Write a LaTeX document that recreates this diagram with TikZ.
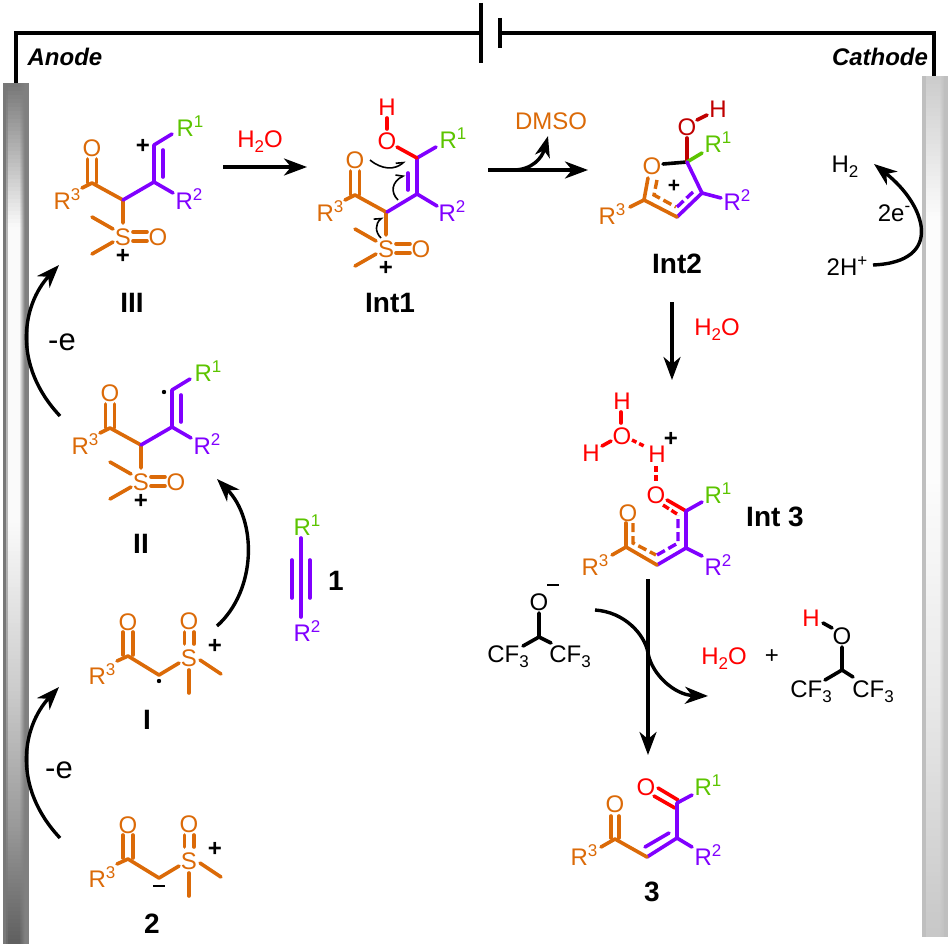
\documentclass[tikz,border=0pt]{standalone}
\usepackage{fontspec}
\setmainfont{Liberation Sans}
\usetikzlibrary{arrows.meta}
\definecolor{orng}{HTML}{DB6A08}
\definecolor{purp}{HTML}{8000FF}
\definecolor{grn}{HTML}{5CC400}
\definecolor{rd}{HTML}{FF0000}
\definecolor{drd}{HTML}{C00000}
\tikzset{
  bond/.style={line width=3.6pt,line cap=round,line join=round},
  obond/.style={bond,orng},
  pbond/.style={bond,purp},
  rbond/.style={bond,rd},
  kbond/.style={bond,black},
  dbond/.style={line width=3.4pt,dash pattern=on 9pt off 4pt},
  wire/.style={line width=3.2pt,black},
  rxn/.style={line width=3.4pt,black,-{Stealth[length=23pt,width=17pt,inset=7pt]}},
  push/.style={line width=1.6pt,black,-{Straight Barb[harpoon,length=6pt,width=9pt]}},
  atom/.style={inner sep=0pt,font=\fontsize{24}{24}\selectfont},
  oatom/.style={atom,text=orng},
  ratom/.style={atom,text=rd},
  katom/.style={atom,text=black},
  charge/.style={inner sep=0pt,font=\fontsize{24}{24}\selectfont\bfseries},
  raddot/.style={circle,fill=black,inner sep=0pt,minimum size=4.4pt},
  cmpd/.style={inner sep=0pt,font=\fontsize{28}{28}\selectfont\bfseries},
  elabel/.style={inner sep=0pt,font=\fontsize{24}{24}\selectfont\bfseries\itshape},
  rgroup/.style={inner sep=0pt,anchor=base west,font=\fontsize{24}{24}\selectfont,xshift=-8.66pt,yshift=-8.6pt},
}
\newcommand{\Sup}[1]{\raisebox{9.5pt}{\fontsize{17}{17}\selectfont #1}}
\newcommand{\Sub}[1]{\raisebox{-5pt}{\fontsize{17}{17}\selectfont #1}}
% R3 + keto + sulfoxonium fragment of III, II, Int1
\newcommand{\Core}[3]{%
\begin{scope}[shift={(#2,#3)}]
  \coordinate (#1c1) at (92,183);
  \coordinate (#1c2) at (123,200);
  \node[oatom] (#1o1) at (92,148) {O};
  \node[rgroup,text=orng] (#1r3) at (62,201) {R\Sup{3}};
  \node[oatom] (#1s) at (123,237) {S};
  \node[oatom] (#1o2) at (158,237) {O};
  \node[charge] (#1plus) at (123,256) {+};
  \draw[obond] (87.5,159) -- (87.5,183) (96.5,159) -- (96.5,183);
  \draw[obond] (82,188) -- (#1c1) -- (#1c2) -- (123,223);
  \draw[obond] (92,217) -- (113,229) (92,254) -- (113,242);
  \draw[obond] (133,232) -- (147,232) (133,241) -- (147,241);
\end{scope}}
% R1, R2 labels
\newcommand{\Rlabs}[3]{%
\begin{scope}[shift={(#2,#3)}]
  \node[rgroup,text=grn] (#1r1) at (185,128) {R\Sup{1}};
  \node[rgroup,text=purp] (#1r2) at (184,201) {R\Sup{2}};
\end{scope}}
% vinyl part, double bond on the right
\newcommand{\Vinyl}[3]{%
\begin{scope}[shift={(#2,#3)}]
  \draw[pbond] (123,200) -- (154,182) -- (154,145) -- (172,134);
  \draw[pbond] (154,182) -- (173,193);
  \draw[pbond] (163,150) -- (163,177);
\end{scope}}
% ketone and sulfoxonium of 2 and I
\newcommand{\Ylide}[3]{%
\begin{scope}[shift={(#2,#3)}]
  \node[oatom] (#1o1) at (128,825) {O};
  \node[rgroup,text=orng] (#1r3) at (97,879) {R\Sup{3}};
  \node[oatom] (#1s) at (189,861) {S};
  \node[oatom] (#1o2) at (189,824) {O};
  \node[charge] (#1plus) at (215,849) {+};
  \draw[obond] (123,835) -- (123,858) (133,835) -- (133,858);
  \draw[obond] (117,864) -- (128,859) -- (159,878) -- (179,866);
  \draw[obond] (184.5,835) -- (184.5,847) (194,835) -- (194,847);
  \draw[obond] (189,873) -- (189,896);
  \draw[obond] (200,863) -- (221,877);
\end{scope}}
\begin{document}
\begin{tikzpicture}[x=1pt,y=-1pt]
\useasboundingbox (0,0) rectangle (951,947);
% left electrode: bands of grey
\foreach \y in {83,87,...,939}{
  \pgfmathsetmacro{\g}{\y<225 ? 47+(51/142)*(\y-83) : (\y<520 ? 98 : (\y<686 ? 98-(18/166)*(\y-520) : (\y<825 ? 80-(20/139)*(\y-686) : 60-(23/118)*(\y-825))))}
  \pgfmathsetmacro{\kc}{100-\g}
  \pgfmathsetmacro{\kb}{100-(\g+46)/2}
  \pgfmathsetmacro{\ytop}{\y+4.5}
  \fill[black!53] (3,\y) rectangle (6.3,\ytop);
  \fill[black!\kb] (6,\y) rectangle (7.8,\ytop);
  \fill[black!\kc] (7.5,\y) rectangle (20.3,\ytop);
  \foreach \i in {0,...,4}{
    \pgfmathsetmacro{\kk}{100-(\g+(50-\g)*(\i+1)/5.5)}
    \pgfmathsetmacro{\xa}{20+\i}
    \pgfmathsetmacro{\xb}{21.3+\i}
    \fill[black!\kk] (\xa,\y) rectangle (\xb,\ytop);
  }
  \fill[black!50] (25,\y) rectangle (29,\ytop);
}
% right electrode
\foreach \y in {76,80,...,932}{
  \pgfmathsetmacro{\g}{\y<220 ? 80+(19/144)*(\y-76) : (\y<470 ? 99 : (\y<700 ? 99-(8/230)*(\y-470) : 91-(13/237)*(\y-700)))}
  \pgfmathsetmacro{\kc}{100-\g}
  \pgfmathsetmacro{\ytop}{min(\y+4.5,937)}
  \fill[black!25] (922,\y) rectangle (926.3,\ytop);
  \fill[black!\kc] (926,\y) rectangle (940.3,\ytop);
  \foreach \i in {0,...,3}{
    \pgfmathsetmacro{\kk}{100-(\g+(76-\g)*(\i+1)/4.5)}
    \pgfmathsetmacro{\xa}{940+\i}
    \pgfmathsetmacro{\xb}{941.3+\i}
    \fill[black!\kk] (\xa,\y) rectangle (\xb,\ytop);
  }
  \fill[black!25] (944,\y) rectangle (948,\ytop);
}
% wires
\coordinate (anodetop) at (16,83);
\coordinate (cathodetop) at (934,76);
\coordinate (plusin) at (481,33);
\coordinate (minusin) at (500,33);
\draw[wire,line join=miter] (anodetop) -- (16,33) -- (plusin);
\draw[wire,line join=miter] (minusin) -- (934,33) -- (cathodetop);
\draw[wire] (481,3) -- (481,63);
\draw[wire] (500,18) -- (500,48);
\node[elabel] (anode) at (65,57) {Anode};
\node[elabel] (cathode) at (880,57) {Cathode};

% III
\Core{a}{0}{0}\Vinyl{a}{0}{0}\Rlabs{a}{0}{0}
\node[charge] (aplusb) at (143,146) {+};
\node[cmpd] (III) at (132,303) {III};

% Int1
\Core{b}{263}{12}\Rlabs{b}{263}{12}
\coordinate (bc4) at (417,158);
\draw[pbond] (387,212) -- (417,194) -- (bc4) -- (436,147);
\draw[pbond] (417,194) -- (437,206);
\draw[pbond] (408,173) -- (408,190);
\draw[rbond] (bc4) -- (397,147);
\node[ratom] (boh) at (387,141) {O};
\node[ratom] (bh) at (387,107) {H};
\draw[rbond] (387,118) -- (387,129);
\draw[push] (370,160) .. controls (382,170) and (395,170) .. (405,161);
\draw[push] (398,200) .. controls (390,192) and (392,182) .. (405,175);
\draw[push] (381,238) .. controls (375,232) and (375,224) .. (383,217);
\node[cmpd] (Int1) at (390,303) {Int1};

% H2O arrow
\coordinate (w1a) at (223,167);
\coordinate (w1b) at (307,167);
\draw[rxn] (w1a) -- (w1b);
\node[ratom] (w1) at (260,142) {H\Sub{2}O};

% DMSO arrow
\coordinate (d1a) at (488,170);
\coordinate (d1b) at (588,170);
\coordinate (d1c) at (513,170);
\coordinate (d1d) at (548,136);
\draw[rxn] (d1a) -- (d1b);
\draw[line width=3.4pt,-{Stealth[length=21pt,width=15pt,inset=6pt]}] (d1c) .. controls (532,170) and (542,158) .. (d1d);
\node[oatom] (dmso) at (551,121) {DMSO};

% Int2
\node[oatom] (co) at (652,166) {O};
\node[atom,text=drd] (coh) at (687,127) {O};
\node[atom,text=drd] (ch) at (718,109) {H};
\coordinate (cc) at (687,162);
\draw[kbond] (663,164) -- (cc);
\draw[bond,drd] (687,138) -- (cc);
\draw[bond,drd] (697,120) -- (707,115);
\draw[bond,grn] (cc) -- (702,153);
\node[rgroup,text=grn] (cr1) at (713,144) {R\Sup{1}};
\draw[pbond] (cc) -- (702,193) -- (677,217);
\draw[pbond] (702,193) -- (721,198);
\node[rgroup,text=purp] (cr2) at (732,202) {R\Sup{2}};
\draw[obond] (677,217) -- (644,200) -- (630,207);
\draw[obond] (644,200) -- (648,178);
\node[rgroup,text=orng] (cr3) at (607,216) {R\Sup{3}};
\draw[orng,dbond] (657,180) -- (654,195) -- (676,207);
\draw[purp,dbond] (677,207) -- (693,192);
\node[charge,font=\fontsize{21}{21}\selectfont\bfseries] (cplus) at (674,186) {+};
\node[cmpd] (Int2) at (677,264) {Int2};

% H2 cycle
\node[katom] (h2) at (845,167) {H\Sub{2}};
\node[katom] (hp) at (847,266) {2H\Sup{+}};
\node[katom] (el2) at (894,213) {2e\Sup{-}};
\coordinate (h2a) at (873,265);
\coordinate (h2b) at (874,164);
\draw[rxn] (h2a) .. controls (945,262) and (926,205) .. (h2b);

% Int2 -> Int3
\coordinate (w2a) at (672,302);
\coordinate (w2b) at (672,380);
\draw[rxn] (w2a) -- (w2b);
\node[ratom] (w2) at (717,330) {H\Sub{2}O};

% Int3
\node[ratom] (dh1) at (622,401) {H};
\node[ratom] (do1) at (622,436) {O};
\node[ratom] (dh2) at (591,453) {H};
\node[ratom] (dh3) at (657,454) {H};
\node[charge] (dplus) at (671,439) {+};
\node[ratom] (do2) at (656,495) {O};
\draw[rbond] (621,412) -- (621,423);
\draw[rbond] (602,446) -- (611,441);
\draw[rd,line width=3.4pt,dash pattern=on 5pt off 3pt] (632,440) -- (646,447);
\draw[rd,line width=3.4pt,dash pattern=on 6pt off 3pt] (656,466) -- (656,482);
\draw[rbond] (667,500) -- (686,511);
\draw[pbond] (686,511) -- (702,502);
\draw[pbond] (686,511) -- (686,548) -- (702,556);
\draw[pbond] (686,548) -- (657,565);
\draw[obond] (657,565) -- (626,547) -- (612,555);
\draw[obond] (626,547) -- (626,523);
\node[oatom] (do3) at (628,513) {O};
\draw[orng,dbond] (633,523) -- (633,543) -- (656,555);
\draw[purp,dbond] (657,555) -- (678,543) -- (678,515);
\draw[rd,line width=3.4pt,dash pattern=on 7pt off 3pt] (663,505) -- (677,514);
\node[rgroup,text=grn] (dr1) at (713,495) {R\Sup{1}};
\node[rgroup,text=purp] (dr2) at (713,567) {R\Sup{2}};
\node[rgroup,text=orng] (dr3) at (590,567) {R\Sup{3}};
\node[cmpd] (Int3) at (775,517) {Int 3};

% HFIP anion
\node[katom] (eo) at (539,602) {O};
\node[charge] (eminus) at (553,586) {\rule[2.2pt]{12pt}{2.8pt}};
\coordinate (ec) at (539,637);
\draw[kbond] (539,613) -- (ec) -- (551,643) (ec) -- (523,646);
\node[katom] (ecf1) at (508,657) {CF\Sub{3}};
\node[katom] (ecf2) at (570,657) {CF\Sub{3}};

% big arrows
\coordinate (s1) at (595,610);
\coordinate (s2) at (648,653);
\coordinate (s3) at (708,696);
\draw[line width=3.4pt,black] (s1) .. controls (625,612) and (645,635) .. (s2);
\draw[rxn] (s2) .. controls (652,675) and (675,695) .. (s3);
\coordinate (l1) at (648,579);
\coordinate (l2) at (648,755);
\draw[rxn] (l1) -- (l2);

% products
\node[ratom] (w3) at (724,659) {H\Sub{2}O};
\node[katom] (pl) at (772,657) {+};
\node[ratom] (fh) at (811,618) {H};
\node[katom] (fo) at (842,636) {O};
\coordinate (fc) at (842,670);
\draw[kbond] (823,623) -- (832,628);
\draw[kbond] (842,647) -- (fc) -- (853,677) (fc) -- (825,680);
\node[katom] (fcf1) at (811,692) {CF\Sub{3}};
\node[katom] (fcf2) at (873,692) {CF\Sub{3}};

% 3
\node[ratom] (go1) at (646,787) {O};
\node[oatom] (go2) at (615,804) {O};
\draw[rbond] (658,788) -- (678,800) (654,796) -- (675,808);
\draw[pbond] (677,803) -- (692,795);
\draw[pbond] (677,803) -- (677,838) -- (692,847);
\draw[pbond] (677,838) -- (647,857);
\draw[pbond] (645,847) -- (669,833);
\draw[obond] (647,857) -- (615,839) -- (601,847);
\draw[obond] (611,816) -- (611,838) (619,816) -- (619,838);
\node[rgroup,text=grn] (gr1) at (703,787) {R\Sup{1}};
\node[rgroup,text=purp] (gr2) at (703,857) {R\Sup{2}};
\node[rgroup,text=orng] (gr3) at (579,857) {R\Sup{3}};
\node[cmpd] (prod) at (652,892) {3};

% II
\Core{e}{18}{245}\Vinyl{e}{18}{245}\Rlabs{e}{18}{245}
\node[raddot] (edot) at (164,392) {};
\node[cmpd] (II) at (141,544) {II};

% 1
\node[rgroup,text=grn] (hr1) at (302,527) {R\Sup{1}};
\node[rgroup,text=purp] (hr2) at (302,633) {R\Sup{2}};
\draw[pbond] (301,538) -- (301,617);
\draw[pbond] (292,560) -- (292,598) (310,560) -- (310,598);
\node[cmpd] (one) at (336,581) {1};

% I
\Ylide{f}{0}{-203}
\node[raddot] (fdot) at (159,681) {};
\node[cmpd] (I) at (147,720) {I};

% 2
\Ylide{g}{0}{0}
\node[charge] (gminus) at (159,887) {\rule[2.2pt]{12pt}{2.8pt}};
\node[cmpd] (two) at (152,924) {2};

% anode arrows
\coordinate (u1) at (60,416);
\coordinate (u2) at (59,265);
\draw[rxn] (u1) .. controls (12,365) and (22,305) .. (u2);
\node[katom,font=\fontsize{31}{31}\selectfont] (ue) at (62,342) {-e};
\coordinate (v1) at (60,838);
\coordinate (v2) at (59,687);
\draw[rxn] (v1) .. controls (12,787) and (22,727) .. (v2);
\node[katom,font=\fontsize{31}{31}\selectfont] (ve) at (59,770) {-e};
% I -> II
\coordinate (k1) at (217,626);
\coordinate (k2) at (217,479);
\draw[rxn] (k1) .. controls (257,590) and (257,520) .. (k2);
\end{tikzpicture}
\end{document}
